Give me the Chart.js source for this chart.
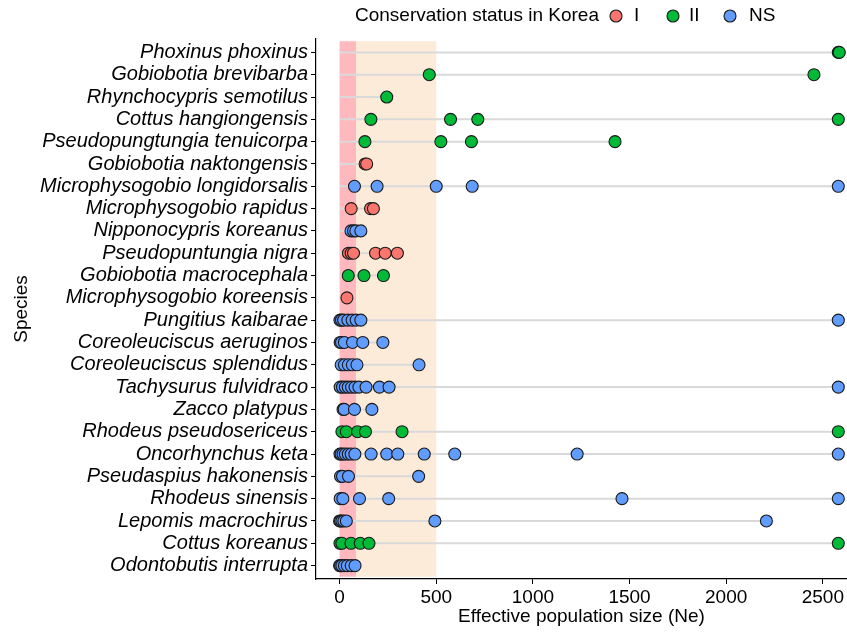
<!DOCTYPE html>
<html>
<head>
<meta charset="utf-8">
<script src="https://cdn.jsdelivr.net/npm/chart.js@4.4.0/dist/chart.umd.min.js"></script>
<style>
  html, body { margin: 0; padding: 0; background: #fff; }
</style>
</head>
<body>
<canvas id="neChart" width="847" height="633"></canvas>
<script>
const species = ['Phoxinus phoxinus', 'Gobiobotia brevibarba', 'Rhynchocypris semotilus', 'Cottus hangiongensis',
    'Pseudopungtungia tenuicorpa', 'Gobiobotia naktongensis', 'Microphysogobio longidorsalis', 'Microphysogobio rapidus',
    'Nipponocypris koreanus', 'Pseudopuntungia nigra', 'Gobiobotia macrocephala', 'Microphysogobio koreensis',
    'Pungitius kaibarae', 'Coreoleuciscus aeruginos', 'Coreoleuciscus splendidus', 'Tachysurus fulvidraco',
    'Zacco platypus', 'Rhodeus pseudosericeus', 'Oncorhynchus keta', 'Pseudaspius hakonensis',
    'Rhodeus sinensis', 'Lepomis macrochirus', 'Cottus koreanus', 'Odontobutis interrupta']
const status = ['II', 'II', 'II', 'II', 'II', 'I', 'NS', 'I', 'NS', 'I', 'II', 'I',
    'NS', 'NS', 'NS', 'NS', 'NS', 'II', 'NS', 'NS', 'NS', 'NS', 'II', 'NS']
// Ne estimates per species (same order as species)
const neValues = [
    [2580, 2585],
    [464, 2454],
    [244],
    [162, 574, 715, 2580],
    [131, 524, 682, 1425],
    [132, 140],
    [77, 194, 500, 686, 2580],
    [60, 160, 175],
    [59, 72, 84, 110],
    [46, 60, 72, 186, 236, 299],
    [45, 126, 227],
    [38],
    [2, 10, 21, 43, 65, 86, 110, 2580],
    [3, 10, 25, 67, 120, 224],
    [8, 25, 45, 66, 90, 411],
    [3, 15, 30, 45, 62, 80, 100, 137, 206, 256, 2580],
    [18, 24, 77, 167],
    [12, 35, 93, 134, 323, 2580],
    [2, 8, 18, 30, 45, 60, 79, 163, 244, 301, 438, 596, 1229, 2580],
    [5, 15, 46, 409],
    [3, 17, 103, 254, 1461, 2580],
    [0, 5, 12, 22, 35, 493, 2208],
    [2, 12, 59, 107, 152, 2580],
    [0, 5, 12, 25, 40, 60, 80]
]
const statusLevels = ['I', 'II', 'NS']
const xTicks = [0, 500, 1000, 1500, 2000, 2500]
const bandLimits = [0, 85, 500]

const statusColors = { 'I': '#F8766D', 'II': '#00BA38', 'NS': '#619CFF' }
const bandColors = ['#FFB9BE', '#FDEBD9']
const family = '"Liberation Sans", Arial, Helvetica, sans-serif'

// grey segment from 0 to the largest estimate of each species
const lineSets = species.map((name, i) => ({
    type: 'line',
    data: [{ x: 0, y: i }, { x: Math.max(...neValues[i]), y: i }],
    borderColor: '#D9D9D9',
    borderWidth: 2,
    pointRadius: 0,
    order: 2
}));

const pointSets = statusLevels.map(level => ({
    type: 'scatter',
    label: level,
    data: species.flatMap((name, i) => status[i] === level ? neValues[i].map(v => ({ x: v, y: i })) : []),
    backgroundColor: statusColors[level],
    borderColor: '#1a1a1a',
    borderWidth: 1.1,
    pointRadius: 6,
    clip: false,
    order: 1
}));

const bandPlugin = {
    id: 'neBands',
    beforeDatasetsDraw(chart) {
        const { ctx, scales: { x, y } } = chart;
        const top = y.getPixelForValue(-0.5);
        const bottom = y.getPixelForValue(species.length - 0.5);
        ctx.save();
        for (let i = 0; i < bandLimits.length - 1; i++) {
            const x0 = x.getPixelForValue(bandLimits[i]);
            const x1 = x.getPixelForValue(bandLimits[i + 1]);
            ctx.fillStyle = bandColors[i];
            ctx.fillRect(x0, top, x1 - x0, bottom - top);
        }
        ctx.restore();
    }
};

const legendPlugin = {
    id: 'statusLegend',
    afterDraw(chart) {
        const ctx = chart.ctx;
        const dotX = [616, 673, 730];
        const textX = [634, 689, 749];
        const cy = 16;
        ctx.save();
        ctx.font = `19px ${family}`;
        ctx.fillStyle = '#000';
        ctx.textBaseline = 'middle';
        ctx.fillText('Conservation status in Korea', 355, cy);
        statusLevels.forEach((level, i) => {
            ctx.beginPath();
            ctx.arc(dotX[i], cy, 6, 0, Math.PI * 2);
            ctx.fillStyle = statusColors[level];
            ctx.fill();
            ctx.lineWidth = 1.1;
            ctx.strokeStyle = '#1a1a1a';
            ctx.stroke();
            ctx.fillStyle = '#000';
            ctx.fillText(level, textX[i], cy);
        });
        ctx.restore();
    }
};

const ctx = document.getElementById('neChart').getContext('2d');

new Chart(ctx, {
    data: { datasets: [...lineSets, ...pointSets] },
    options: {
        responsive: false,
        animation: false,
        layout: { autoPadding: false, padding: { top: 39, left: 0, right: 0, bottom: 0 } },
        plugins: {
            legend: { display: false },
            tooltip: { enabled: false }
        },
        scales: {
            x: {
                type: 'linear',
                min: -122,
                max: 2625,
                afterBuildTicks: axis => { axis.ticks = xTicks.map(v => ({ value: v })); },
                afterFit: axis => { axis.height = 54; axis.paddingLeft = 0; axis.paddingRight = 0; },
                grid: { display: true, drawOnChartArea: false, tickLength: 5, color: '#000' },
                border: { display: true, color: '#000', width: 1.2 },
                ticks: {
                    color: '#000', padding: 2, autoSkip: false, maxRotation: 0,
                    font: { family: family, size: 19 },
                    callback: v => String(v)
                },
                title: {
                    display: true, text: 'Effective population size (Ne)', color: '#000',
                    font: { family: family, size: 19 }, padding: { top: 0, bottom: 5 }
                }
            },
            y: {
                type: 'linear',
                min: -0.6,
                max: species.length - 0.4,
                reverse: true,
                afterBuildTicks: axis => { axis.ticks = species.map((s, i) => ({ value: i })); },
                afterFit: axis => { axis.width = 316; axis.paddingTop = 0; axis.paddingBottom = 0; },
                grid: { display: true, drawOnChartArea: false, tickLength: 5, color: '#000' },
                border: { display: true, color: '#000', width: 1.2 },
                ticks: {
                    color: '#000', padding: 3, autoSkip: false,
                    font: { family: family, size: 20, style: 'italic' },
                    callback: v => species[v]
                },
                title: {
                    display: true, text: 'Species', color: '#000',
                    font: { family: family, size: 19 }, padding: { top: 10, bottom: 0 }
                }
            }
        }
    },
    plugins: [bandPlugin, legendPlugin]
});
</script>
</body>
</html>
